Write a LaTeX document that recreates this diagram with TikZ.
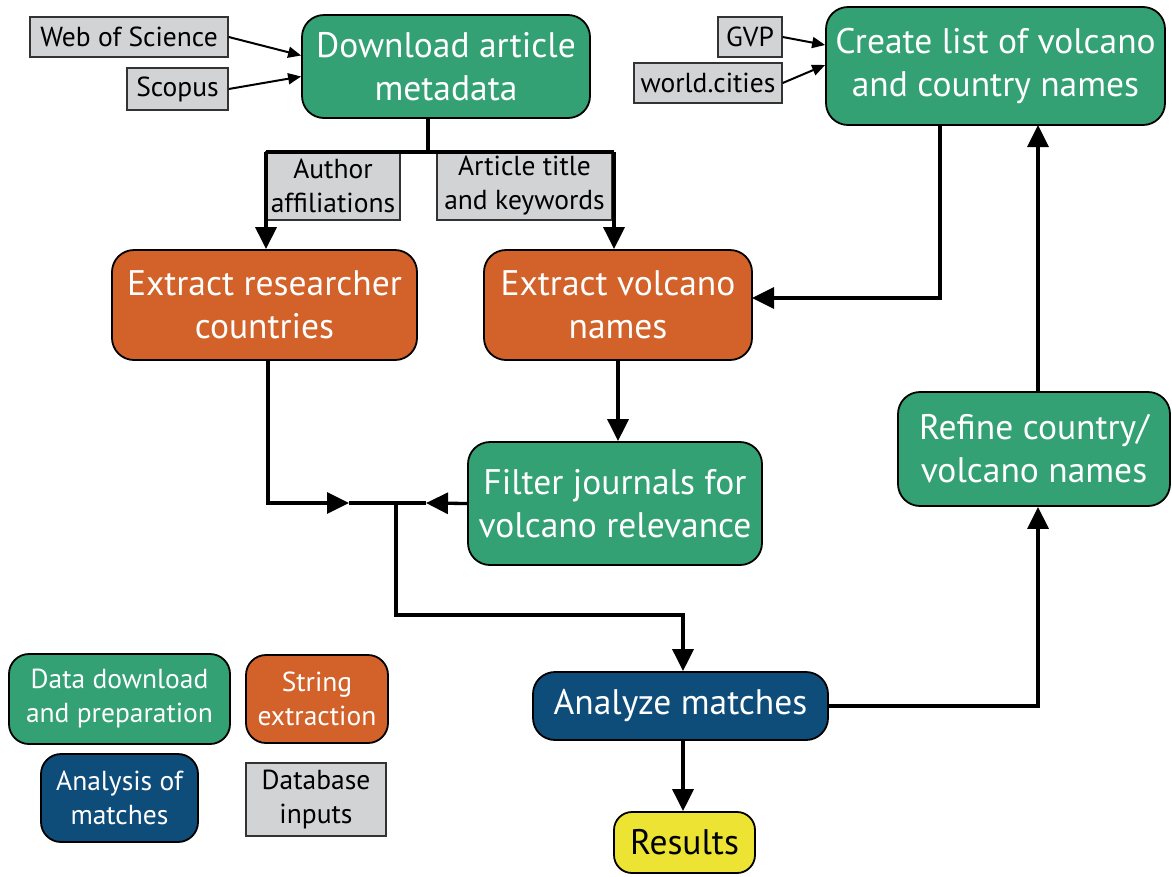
\documentclass[tikz,border=0pt]{standalone}
\usepackage{fontspec}
\setmainfont{PT Sans}
\usetikzlibrary{arrows.meta,calc}
\definecolor{cgreen}{RGB}{52,161,116}
\definecolor{corange}{RGB}{210,98,42}
\definecolor{cblue}{RGB}{14,76,122}
\definecolor{cgray}{RGB}{209,211,212}
\definecolor{cyellow}{RGB}{237,227,50}
\tikzset{
  proc/.style={draw=black, line width=1.8pt, rounded corners=22pt, align=center, text=white,
    inner sep=0pt, font=\fontsize{35.5}{43}\selectfont},
  greenbox/.style={proc, fill=cgreen},
  orangebox/.style={proc, fill=corange},
  bluebox/.style={proc, fill=cblue},
  yellowbox/.style={proc, fill=cyellow, text=black, rounded corners=18pt},
  inbox/.style={draw=black!80, line width=1.4pt, fill=cgray, align=center, text=black,
    inner sep=0pt, font=\fontsize{27.5}{34}\selectfont},
  legbox/.style={proc, rounded corners=20pt, font=\fontsize{27.5}{34}\selectfont},
  arr/.style={line width=3.3pt, -{Triangle[length=22pt,width=21pt]}},
  plainline/.style={line width=3.3pt},
  smallarr/.style={line width=2pt, -{Triangle[length=13pt,width=11pt]}},
}
\begin{document}
\begin{tikzpicture}[x=1pt,y=-1pt]
\useasboundingbox (0,0) rectangle (1172,876);
% main nodes
\node[greenbox, minimum width=288pt, minimum height=103pt] (dl) at (446,66.5) {Download article\\metadata};
\node[greenbox, minimum width=339pt, minimum height=118pt] (cl) at (995.5,66) {Create list of volcano\\and country names};
\node[orangebox, minimum width=305pt, minimum height=110pt] (erc) at (264.5,305) {Extract researcher\\countries};
\node[orangebox, minimum width=268pt, minimum height=110pt] (evn) at (618,305) {Extract volcano\\names};
\node[greenbox, minimum width=294pt, minimum height=123pt] (fj) at (615,503.5) {Filter journals for\\volcano relevance};
\node[greenbox, minimum width=272pt, minimum height=114pt] (rcv) at (1034,449) {Refine country/\\volcano names};
\node[bluebox, minimum width=295pt, minimum height=68pt] (am) at (680.5,706) {Analyze matches};
\node[yellowbox, minimum width=141pt, minimum height=61pt] (res) at (684.5,842.5) {Results};
% inputs
\node[inbox, minimum width=198pt, minimum height=40pt] (wos) at (129,37) {Web of Science};
\node[inbox, minimum width=101pt, minimum height=42pt] (scop) at (177.5,89) {Scopus};
\node[inbox, minimum width=64pt, minimum height=40pt] (gvp) at (750,37) {GVP};
\node[inbox, minimum width=148pt, minimum height=40pt] (wc) at (708,83) {world.cities};
\node[inbox, minimum width=134pt, minimum height=68pt] (aa) at (333,186) {Author\\affiliations};
\node[inbox, minimum width=175pt, minimum height=68pt] (atk) at (524.5,186) {Article title\\and keywords};
% legend
\node[legbox, fill=cgreen, minimum width=221pt, minimum height=90pt] (lg1) at (119.5,699) {Data download\\and preparation};
\node[legbox, fill=corange, minimum width=142pt, minimum height=88pt] (lg2) at (317,699) {String\\extraction};
\node[legbox, fill=cblue, minimum width=157pt, minimum height=88pt] (lg3) at (119.5,798) {Analysis of\\matches};
\node[inbox, minimum width=140pt, minimum height=73pt] (lg4) at (316,799.5) {Database\\inputs};
% coordinates
\coordinate (split) at (428,152);
\coordinate (splitL) at (266,152);
\coordinate (splitR) at (614,152);
\coordinate (junc) at (396,503);
\coordinate (m1) at (349,503);
\coordinate (m2) at (426,503);
\coordinate (low) at (396,615);
\coordinate (clout) at (940,125);
\coordinate (clin) at (1038,125);
\coordinate (evin) at (752,298);
% input arrows
\draw[smallarr] (wos.east) -- ($(dl.west)+(0,-11)$);
\draw[smallarr] (scop.east) -- ($(dl.west)+(0,10)$);
\draw[smallarr] (gvp.east) -- ($(cl.west)+(0,-21)$);
\draw[smallarr] (wc.east) -- ($(cl.west)+(0,-1)$);
% split from download
\draw[plainline] (dl.south -| split) -- (split);
\draw[plainline] (splitL) -- (splitR);
\draw[arr] (splitL) -- (splitL |- erc.north);
\draw[arr] (splitR) -- (splitR |- evn.north);
% create list to extract volcano
\draw[arr] (clout) |- (evin);
% refine to create list
\draw[arr] (rcv.north -| clin) -- (clin);
% extract volcano to filter
\draw[arr] (evn.south) -- (evn.south |- fj.north);
% merge
\draw[arr] (erc.south -| 268,0) |- (m1);
\draw[plainline] (m1) -- (junc);
\draw[arr] (fj.west) -- (m2);
\draw[plainline] (m2) -- (junc);
\draw[arr] (junc) -- (low) -| (683,0 |- am.north);
% analyze
\draw[arr] (am.east) -| (rcv.south -| clin);
\draw[arr] (am.south -| 683,0) -- (res.north -| 683,0);
\end{tikzpicture}
\end{document}
